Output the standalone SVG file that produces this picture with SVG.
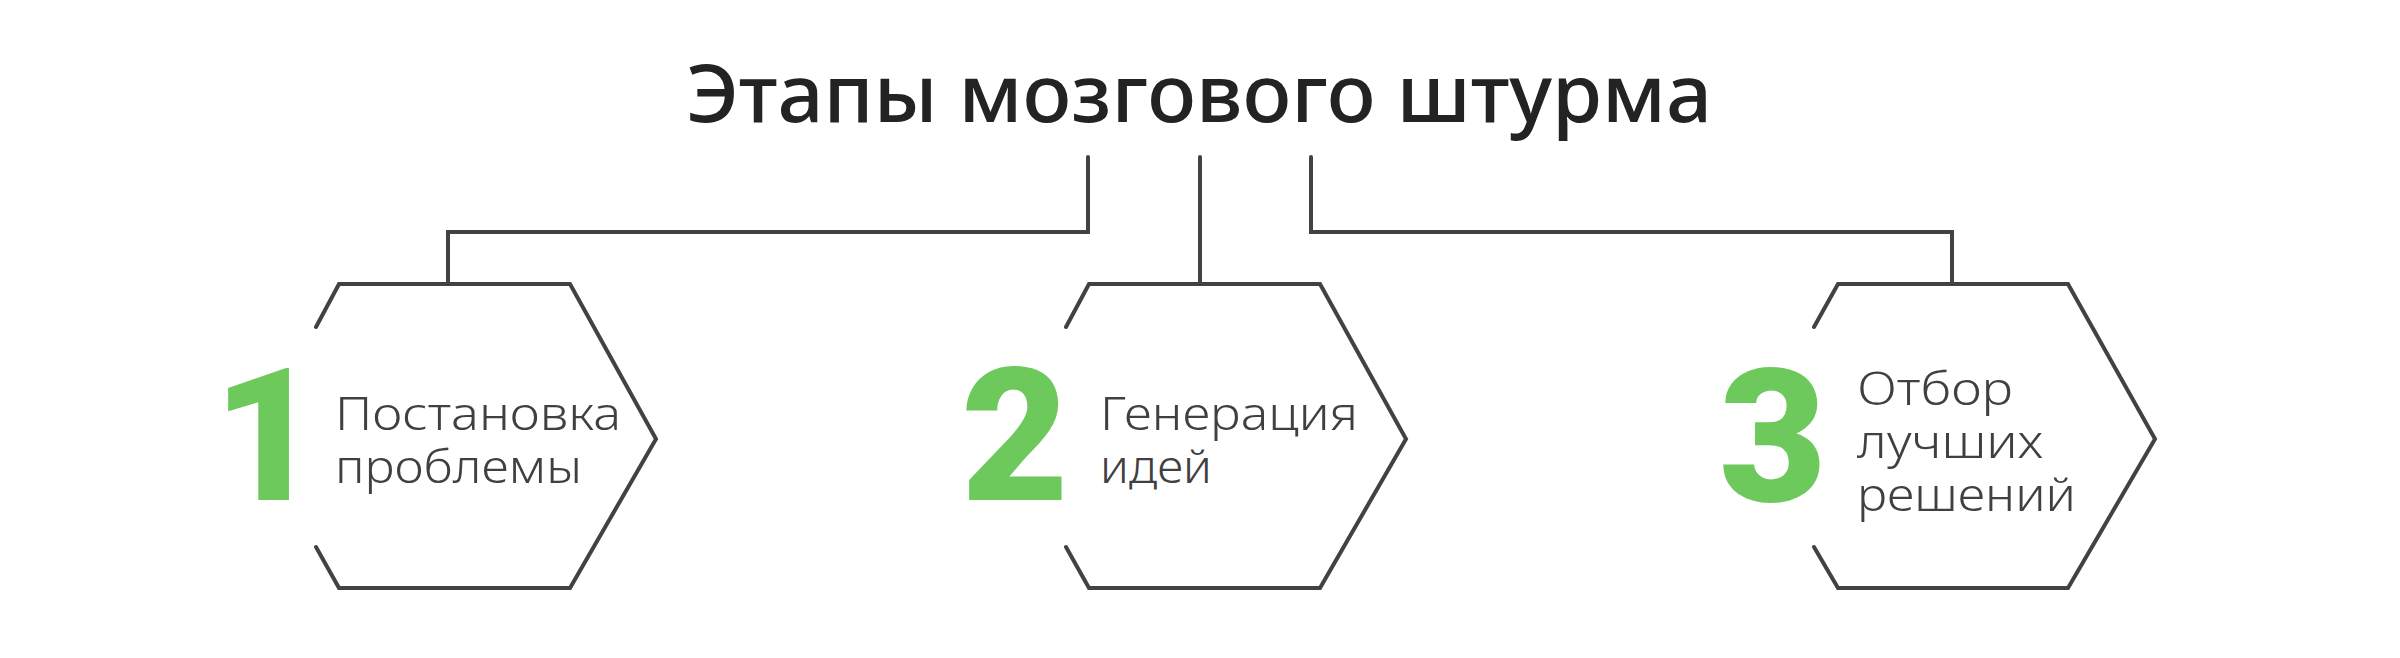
<svg xmlns="http://www.w3.org/2000/svg" width="2400" height="658" viewBox="0 0 2400 658">
<style>
.line{fill:none;stroke:#424242;stroke-width:4;stroke-linecap:round;stroke-linejoin:miter}
.title{font-family:"Noto Sans","Liberation Sans",sans-serif;font-weight:500;font-size:80px;fill:#232323}
.lbl{font-family:"Noto Sans","Liberation Sans",sans-serif;font-weight:300;font-size:46px;fill:#404040}
.num{font-family:Roboto,"Noto Sans","Liberation Sans",sans-serif;font-weight:900;font-size:186px;fill:#6DC95C}
</style>
<rect width="2400" height="658" fill="#ffffff"/>
<g id="title">
<text class="title" x="1199" y="122" text-anchor="middle" textLength="1026" lengthAdjust="spacingAndGlyphs">Этапы мозгового штурма</text>
</g>
<g id="connectors">
<path class="line" d="M1088,157 V232 H448 V284"/>
<path class="line" d="M1200,157 V284"/>
<path class="line" d="M1311,157 V232 H1952 V284"/>
</g>
<g id="node1">
<path class="line" d="M316,327 L339,284 L570,284 L656,439 L570,588 L339,588 L316,547"/>
<text class="num" x="267" y="500" text-anchor="middle">1</text>
<text class="lbl" x="335" y="430" textLength="286" lengthAdjust="spacingAndGlyphs">Постановка</text>
<text class="lbl" x="335" y="483" textLength="247" lengthAdjust="spacingAndGlyphs">проблемы</text>
</g>
<g id="node2">
<path class="line" d="M1066,327 L1089,284 L1320,284 L1406,439 L1320,588 L1089,588 L1066,547"/>
<text class="num" x="1015" y="500" text-anchor="middle">2</text>
<text class="lbl" x="1100" y="430" textLength="258" lengthAdjust="spacingAndGlyphs">Генерация</text>
<text class="lbl" x="1100" y="483" textLength="112" lengthAdjust="spacingAndGlyphs">идей</text>
</g>
<g id="node3">
<path class="line" d="M1814,327 L1838,284 L2068,284 L2155,439 L2068,588 L1838,588 L1814,547"/>
<text class="num" x="1773" y="501" text-anchor="middle">3</text>
<text class="lbl" x="1857" y="405" textLength="156" lengthAdjust="spacingAndGlyphs">Отбор</text>
<text class="lbl" x="1857" y="458" textLength="186" lengthAdjust="spacingAndGlyphs">лучших</text>
<text class="lbl" x="1857" y="511" textLength="219" lengthAdjust="spacingAndGlyphs">решений</text>
</g>
</svg>
